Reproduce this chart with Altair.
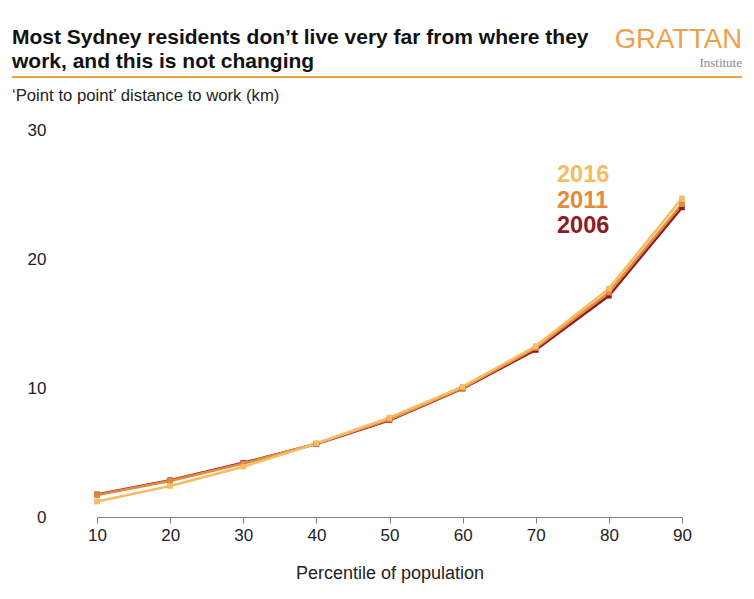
import altair as alt
import pandas as pd

percentiles = [10, 20, 30, 40, 50, 60, 70, 80, 90]
d2006 = [1.75, 2.85, 4.2, 5.65, 7.5, 9.95, 12.95, 17.15, 24.0]
d2011 = [1.7, 2.8, 4.15, 5.7, 7.55, 10.0, 13.1, 17.4, 24.25]
d2016 = [1.2, 2.4, 3.9, 5.7, 7.7, 10.1, 13.25, 17.7, 24.7]
years = ["2006", "2011", "2016"]
colors = ["#8E1B20", "#E38A3C", "#F5BC66"]

title_lines = ["Most Sydney residents don\u2019t live very far from where they",
               "work, and this is not changing"]
subtitle = "\u2018Point to point\u2019 distance to work (km)"
x_title = "Percentile of population"

rows = []
for yr, vals in zip(years, [d2006, d2011, d2016]):
    for p, v in zip(percentiles, vals):
        rows.append({"percentile": p, "km": v, "year": yr})
df = pd.DataFrame(rows)

W, H = 585, 387
xscale = alt.Scale(domain=[10, 90], nice=False)
yscale = alt.Scale(domain=[0, 30], nice=False)
cscale = alt.Scale(domain=years, range=colors)

base = alt.Chart(df).encode(
    x=alt.X("percentile:Q", scale=xscale,
            axis=alt.Axis(values=percentiles, title=x_title, grid=False, labelFlush=False,
                          domainColor="#808080", tickColor="#808080", tickSize=6,
                          labelFontSize=17, labelColor="#222222", labelPadding=4,
                          titleFontSize=18, titleFontWeight="normal", titleColor="#222222",
                          titlePadding=21, labelFont="Liberation Sans", titleFont="Liberation Sans")),
    y=alt.Y("km:Q", scale=yscale,
            axis=alt.Axis(values=[0, 10, 20, 30], title=None, grid=False, domain=False,
                          ticks=False, labelFontSize=17, labelColor="#222222", labelFlush=False,
                          labelPadding=51, labelFont="Liberation Sans")),
    color=alt.Color("year:N", scale=cscale, legend=None),
    order=alt.Order("year:N"),
)

lines = base.mark_line(strokeWidth=2.6)
pts = base.mark_square(size=32, opacity=1, filled=True)

def txt(text, x, y, size, color, weight="normal", align="left", font="Liberation Sans"):
    return alt.Chart(pd.DataFrame({"t": [text]})).mark_text(
        align=align, baseline="alphabetic", fontSize=size, fontWeight=weight,
        color=color, font=font
    ).encode(x=alt.value(x), y=alt.value(y), text="t:N")

layers = [lines, pts]
layers.append(txt(title_lines[0], -85, -86, 21, "#111111", "bold"))
layers.append(txt(title_lines[1], -85, -62, 21, "#111111", "bold"))
layers.append(txt(subtitle, -85, -29, 16.7, "#222222"))
layers.append(txt("GRATTAN", 645, -82, 27.5, "#EFA04A", align="right"))
layers.append(txt("Institute", 645, -63, 13, "#8A8A8A", align="right", font="Liberation Serif"))

rule = alt.Chart(pd.DataFrame({"a": [0]})).mark_rule(color="#E8A23E", strokeWidth=2).encode(
    x=alt.value(-85), x2=alt.value(645), y=alt.value(-53))
layers.append(rule)

label_y = {"2016": 52, "2011": 78, "2006": 103}
for yr, c in zip(years, colors):
    layers.append(txt(yr, 460, label_y[yr], 23.5, c, "bold"))

chart = alt.layer(*layers).properties(
    width=W, height=H,
    background="white",
    autosize=alt.AutoSizeParams(type="none"),
    padding={"left": 89, "top": 122, "right": 64, "bottom": 74},
).configure_view(strokeWidth=0, stroke=None)

chart.save("out.html", embed_options={"renderer": "svg", "actions": False})
